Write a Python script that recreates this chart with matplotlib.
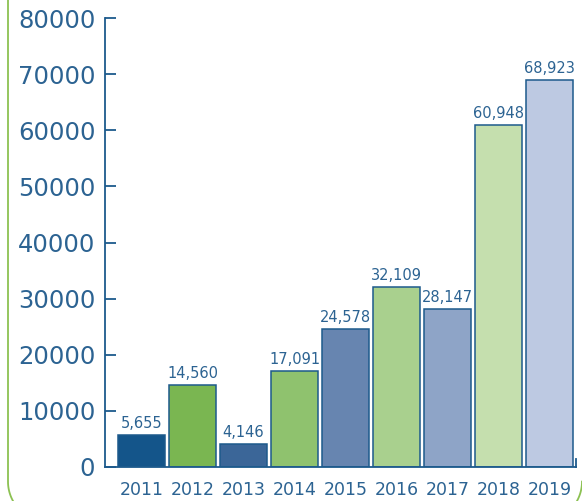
import matplotlib
matplotlib.use("Agg")
import matplotlib.pyplot as plt
from matplotlib.lines import Line2D
import numpy as np

years = ['2011', '2012', '2013', '2014', '2015', '2016', '2017', '2018', '2019']
values = [5655, 14560, 4146, 17091, 24578, 32109, 28147, 60948, 68923]
bar_colors = ['#14558a', '#7ab651', '#3b6698', '#8fc26e', '#6785b0',
              '#a9d08e', '#8ea4c7', '#c5dfae', '#bdc9e2']

text_col = '#2c6392'
edge_col = '#1d5a8c'

fig = plt.figure(figsize=(5.82, 5.01), dpi=100)
ax = fig.add_axes([105/582, 1 - 467/501, 471/582, 449/501])

x = np.arange(len(years))
bars = ax.bar(x, values, width=0.92, color=bar_colors, edgecolor=edge_col, linewidth=1.1)

for xi, v in zip(x, values):
    ax.annotate(f'{v:,}', xy=(xi, v), xytext=(0, 3), textcoords='offset points',
                ha='center', va='bottom', fontsize=10.5, color=text_col)

ax.set_xlim(-0.716, 8.52)
ax.set_ylim(0, 80000)
ax.set_yticks(np.arange(0, 80001, 10000))
ax.set_xticks(x)
ax.set_xticklabels(years)

ax.spines['top'].set_visible(False)
ax.spines['left'].set_color(edge_col)
ax.spines['bottom'].set_color(edge_col)
ax.spines['right'].set_color(edge_col)
for s in ['left', 'bottom', 'right']:
    ax.spines[s].set_linewidth(1.3)
ax.spines['right'].set_bounds(0, 1500)

ax.tick_params(axis='y', direction='in', length=8, width=1.3, color=edge_col,
               labelsize=17.5, labelcolor=text_col, pad=7)
ax.tick_params(axis='x', length=0, labelsize=12.5, labelcolor=text_col, pad=10)

# rounded green frame (left side + bottom corners), in pixel coords
r = 40
x0, x1, yb = 8, 582, -20.6
t1 = np.linspace(np.pi, 1.5 * np.pi, 40)
t2 = np.linspace(1.5 * np.pi, 2 * np.pi, 40)
fx = np.concatenate([[x0], x0 + r + r * np.cos(t1), x1 - r + r * np.cos(t2)])
fy = np.concatenate([[600], yb + r + r * np.sin(t1), yb + r + r * np.sin(t2)])
fig.add_artist(Line2D(fx, fy, transform=None, color='#8cc152', linewidth=1.3))

plt.savefig('out.png', dpi=100)
